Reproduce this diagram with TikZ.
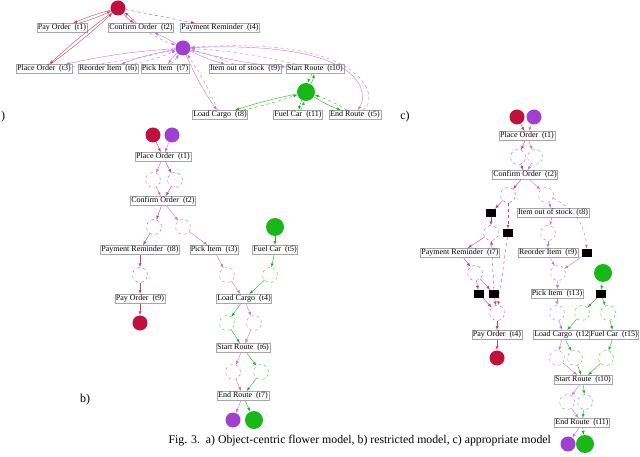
\documentclass[tikz,border=0pt]{standalone}
\usepackage{fontspec}
\setmainfont{Liberation Serif}
\definecolor{cr}{HTML}{C0103C}
\definecolor{cp}{HTML}{A040D0}
\definecolor{cg}{HTML}{18B818}
\begin{document}
\begin{tikzpicture}[x=1pt,y=-1pt,>=latex,
 tr/.style={draw=gray!70,line width=0.5pt,inner sep=1pt,font=\fontsize{8}{9}\selectfont,fill=white},
 pl/.style={circle,minimum size=#1,inner sep=0},
 rp/.style={pl=15pt,fill=cr},
 pp/.style={pl=15pt,fill=cp},
 gp/.style={pl=18pt,fill=cg},
 rc/.style={pl=15pt,draw=cr!70,dashed,fill=white,line width=0.4pt},
 pc/.style={pl=15pt,draw=cp!70,dashed,fill=white,line width=0.4pt},
 gc/.style={pl=15pt,draw=cg!80,dashed,fill=white,line width=0.4pt},
 bk/.style={fill=black,minimum width=10pt,minimum height=8pt,inner sep=0},
 re/.style={->,cr!80,line width=0.4pt},
 pe/.style={->,cp!70,line width=0.4pt},
 ge/.style={->,cg,line width=0.4pt}]
\useasboundingbox (0,0) rectangle (640,457);
% ---------- a)
\node[rp] (aR) at (118,8) {};
\node[pp] (aP) at (183,48) {};
\node[gp] (aG) at (306,92) {};
\node[tr] (a1) at (62,28) {Pay Order\ \ (t1)};
\node[tr] (a2) at (141,28) {Confirm Order\ \ (t2)};
\node[tr] (a4) at (220,28) {Payment Reminder\ \ (t4)};
\node[tr] (a3) at (44,69) {Place Order\ \ (t3)};
\node[tr] (a6) at (108,69) {Reorder Item\ \ (t6)};
\node[tr] (a7) at (165,69) {Pick Item\ \ (t7)};
\node[tr] (a9) at (245,69) {Item out of stock\ \ (t9)};
\node[tr] (a10) at (315,69) {Start Route\ \ (t10)};
\node[tr] (a8) at (220,115) {Load Cargo\ \ (t8)};
\node[tr] (a11) at (298,115) {Fuel Car\ \ (t11)};
\node[tr] (a5) at (355,115) {End Route\ \ (t5)};
\node (al) at (3,117) {\fontsize{12}{13}\selectfont )};
\draw[re] (aR) to[bend right=4] (a1); \draw[re] (a1) to[bend right=4] (aR);
\draw[re] (aR) to[bend right=6] (a2); \draw[re] (a2) to[bend right=6] (aR);
\draw[re,dashed] (aR) -- (a4);
\draw[re] (a3) to[bend right=3] (aR); \draw[re] (aR) to[bend right=3] (a3);
\foreach \t/\b in {a2/5,a3/4,a6/5,a7/8,a9/5,a10/5,a8/5}{
 \draw[pe] (aP) to[bend right=\b] (\t); \draw[pe,dashed] (\t) to[bend right=\b] (aP);}
\draw[pe] (aP) .. controls (360,40) and (370,90) .. (a5);
\draw[pe,dashed] (a5) .. controls (380,100) and (370,35) .. (aP);
\foreach \t/\b in {a8/3,a11/8,a10/10,a5/6}{
 \draw[ge] (aG) to[bend right=\b] (\t); \draw[ge,dashed] (\t) to[bend right=\b] (aG);}
% ---------- b)
\node[rp] (bR) at (153,135) {}; \node[pp] (bP) at (172,135) {};
\node[tr] (b1) at (163,157) {Place Order\ \ (t1)};
\node[pc] (bc1) at (153,180) {}; \node[rc] (bc2) at (175,180) {};
\node[tr] (b2) at (163,201) {Confirm Order\ \ (t2)};
\node[rc] (bc3) at (154,227) {}; \node[pc] (bc4) at (183,227) {};
\node[gp] (bG) at (275,227) {};
\node[tr] (b8) at (140,250) {Payment Reminder\ \ (t8)};
\node[tr] (b3) at (214,250) {Pick Item\ \ (t3)};
\node[tr] (b5) at (275,250) {Fuel Car\ \ (t5)};
\node[rc] (bc5) at (140,275) {}; \node[pc] (bc6) at (227,275) {}; \node[gc] (bc7) at (270,275) {};
\node[tr] (b9) at (140,299) {Pay Order\ \ (t9)};
\node[tr] (b4) at (244,299) {Load Cargo\ \ (t4)};
\node[rp] (bR2) at (140,323) {};
\node[gc] (bc8) at (227,323) {}; \node[pc] (bc9) at (254,323) {};
\node[tr] (b6) at (243,348) {Start Route\ \ (t6)};
\node[pc] (bc10) at (233,372) {}; \node[gc] (bc11) at (261,372) {};
\node[tr] (b7) at (243,396) {End Route\ \ (t7)};
\node[pp] (bP2) at (233,420) {}; \node[gp] (bG2) at (254,420) {};
\node (bl) at (85,400) {\fontsize{12}{13}\selectfont b)};
\draw[re] (bR)--(b1); \draw[pe] (bP)--(b1);
\draw[pe] (b1)--(bc1); \draw[re] (b1)--(bc2); \draw[pe] (bc1)--(b2); \draw[re] (bc2)--(b2);
\draw[re] (b2)--(bc3); \draw[pe] (b2)--(bc4); \draw[re] (bc3)--(b8); \draw[pe] (bc4)--(b3);
\draw[re] (b8)--(bc5); \draw[re] (bc5)--(b9); \draw[re] (b9)--(bR2);
\draw[pe] (b3)--(bc6); \draw[pe] (bc6)--(b4);
\draw[ge] (bG)--(b5); \draw[ge] (b5)--(bc7); \draw[ge] (bc7)--(b4);
\draw[ge] (b4)--(bc8); \draw[pe] (b4)--(bc9); \draw[ge] (bc8)--(b6); \draw[pe] (bc9)--(b6);
\draw[pe] (b6)--(bc10); \draw[ge] (b6)--(bc11); \draw[pe] (bc10)--(b7); \draw[ge] (bc11)--(b7);
\draw[pe] (b7)--(bP2); \draw[ge] (b7)--(bG2);
% ---------- c)
\node (cl) at (405,117) {\fontsize{12}{13}\selectfont c)};
\node[rp] (cR) at (517,117) {}; \node[pp] (cP) at (534,117) {};
\node[tr] (c1) at (527,136) {Place Order\ \ (t1)};
\node[rc] (cc1) at (518,157) {}; \node[pc] (cc2) at (535,157) {};
\node[tr] (c2) at (525,175) {Confirm Order\ \ (t2)};
\node[rc] (cc3) at (508,195) {}; \node[pc] (cc4) at (546,195) {};
\node[bk] (k1) at (491,213) {};
\node[tr] (c8) at (553,213) {Item out of stock\ \ (t8)};
\node[rc] (cc5) at (491,233) {}; \node[bk] (k2) at (508,233) {}; \node[pc] (cc6) at (548,233) {};
\node[tr] (c7) at (460,253) {Payment Reminder\ \ (t7)};
\node[tr] (c9) at (548,253) {Reorder Item\ \ (t9)};
\node[bk] (k3) at (587,253) {};
\node[rc] (cc7) at (475,273) {}; \node[pc] (cc8) at (558,273) {}; \node[gp] (cG) at (603,273) {};
\node[bk] (k4) at (479,294) {}; \node[bk] (k5) at (494,294) {};
\node[tr] (c13) at (557,294) {Pick Item\ \ (t13)};
\node[bk] (k6) at (601,294) {};
\node[rc] (cc9) at (497,313) {}; \node[pc] (cc10) at (557,313) {};
\node[gc] (cc11) at (582,313) {}; \node[gc] (cc12) at (608,313) {};
\node[tr] (c4) at (497,335) {Pay Order\ \ (t4)};
\node[tr] (c12) at (563,335) {Load Cargo\ \ (t12)};
\node[tr] (c15) at (614,335) {Fuel Car\ \ (t15)};
\node[rp] (cR2) at (497,358) {}; \node[pc] (cc13) at (557,358) {};
\node[gc] (cc14) at (575,358) {}; \node[gc] (cc15) at (606,358) {};
\node[tr] (c10) at (583,380) {Start Route\ \ (t10)};
\node[pc] (cc16) at (567,402) {}; \node[gc] (cc17) at (585,402) {};
\node[tr] (c11) at (582,423) {End Route\ \ (t11)};
\node[pp] (cP2) at (568,444) {}; \node[gp] (cG2) at (585,444) {};
\draw[re] (cR)--(c1); \draw[pe] (cP)--(c1);
\draw[re] (c1)--(cc1); \draw[pe] (c1)--(cc2); \draw[re] (cc1)--(c2); \draw[pe] (cc2)--(c2);
\draw[re] (c2)--(cc3); \draw[pe] (c2)--(cc4);
\draw[re] (cc3)--(k1); \draw[re] (k1)--(cc5); \draw[re] (cc5)--(c7);
\draw[re,dashed] (cc3)--(k2); \draw[re,dashed] (k2)--(cc9);
\draw[pe] (cc4)--(c8); \draw[pe] (c8)--(cc6); \draw[pe] (cc6)--(c9); \draw[pe] (c9)--(cc8);
\draw[pe,dashed] (cc4) to[bend left=30] (k3); \draw[pe] (k3)--(cc8);
\draw[re] (c7)--(cc7); \draw[re] (cc7)--(k4); \draw[re] (cc7)--(k5);
\draw[re,dashed] (k5)--(cc5);
\draw[re] (k4)--(cc9); \draw[re] (k5)--(cc9); \draw[re] (cc9)--(c4); \draw[re] (c4)--(cR2);
\draw[pe] (cc8)--(c13); \draw[pe] (c13)--(cc10); \draw[pe] (cc10)--(c12);
\draw[ge] (cG)--(k6); \draw[ge] (k6)--(cc11); \draw[ge] (k6)--(cc12);
\draw[ge] (cc11)--(c12); \draw[ge] (cc12)--(c15);
\draw[pe] (c12)--(cc13); \draw[ge] (c12)--(cc14); \draw[ge] (c15)--(cc15);
\draw[pe] (cc13)--(c10); \draw[ge] (cc14)--(c10); \draw[ge] (cc15)--(c10);
\draw[pe] (c10)--(cc16); \draw[ge] (c10)--(cc17); \draw[pe] (cc16)--(c11); \draw[ge] (cc17)--(c11);
\draw[pe] (c11)--(cP2); \draw[ge] (c11)--(cG2);
% caption
\node[anchor=west,font=\fontsize{11.8}{13}\selectfont] (cap) at (165,441) {Fig. 3.\ \ a) Object-centric flower model, b) restricted model, c) appropriate model};
\end{tikzpicture}
\end{document}
